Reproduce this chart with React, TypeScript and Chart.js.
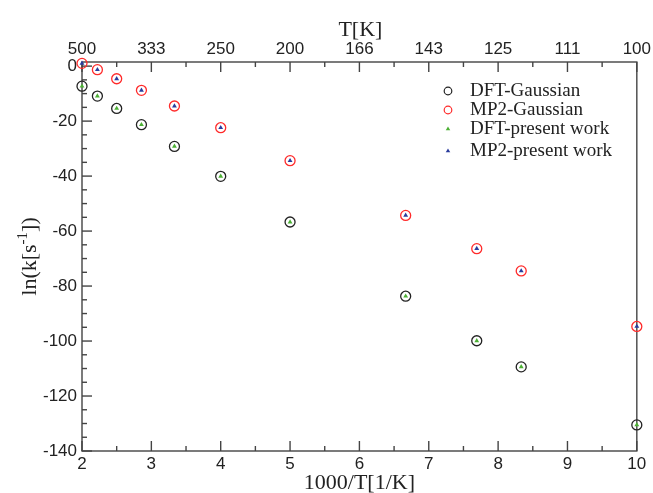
import { useEffect, useRef } from 'react';
import { Chart, registerables } from 'chart.js';

Chart.register(...registerables);

// ---- data ----
const invT = [2, 2.222, 2.5, 2.857, 3.333, 4, 5, 6.667, 7.692, 8.333, 10];
const dftGaussian = [-7.3, -10.9, -15.4, -21.3, -29.2, -40.1, -56.7, -83.7, -99.9, -109.4, -130.5];
const mp2Gaussian = [1.0, -1.3, -4.6, -8.8, -14.5, -22.4, -34.4, -54.3, -66.4, -74.5, -94.7];
const dftPresent = [-7.3, -10.9, -15.4, -21.3, -29.2, -40.1, -56.7, -83.7, -99.9, -109.4, -130.5];
const mp2Present = [1.0, -1.3, -4.6, -8.8, -14.5, -22.4, -34.4, -54.3, -66.4, -74.5, -94.7];
const bottomTicks = [2, 3, 4, 5, 6, 7, 8, 9, 10];
const topTickLabels = ['500', '333', '250', '200', '166', '143', '125', '111', '100'];
const yTicks = [-140, -120, -100, -80, -60, -40, -20, 0];
const seriesLabels = ['DFT-Gaussian', 'MP2-Gaussian', 'DFT-present work', 'MP2-present work'];

// ---- styles ----
const TEXT = '#222222';
const AXIS = '#444444';
const BLACK = '#222222';
const RED = '#ff2a2a';
const GREEN = '#4cb034';
const BLUE = '#2a3c9c';
const SANS = "'Liberation Sans', Arial, sans-serif";
const SERIF = "'Liberation Serif', 'Times New Roman', serif";
const X_MINOR = 0.5;
const Y_MINOR = 5;

const pts = (ys: number[]) => ys.map((y, i) => ({ x: invT[i], y }));

const framePlugin = {
  id: 'frameTicks',
  beforeDatasetsDraw(chart: any) {
    const { ctx, chartArea: a, scales } = chart;
    const xs = scales.x;
    const ys = scales.y;
    ctx.save();
    ctx.strokeStyle = AXIS;
    ctx.lineWidth = 1.4;
    const line = (x1: number, y1: number, x2: number, y2: number) => {
      ctx.beginPath();
      ctx.moveTo(x1, y1);
      ctx.lineTo(x2, y2);
      ctx.stroke();
    };
    const xmin = bottomTicks[0];
    const xmax = bottomTicks[bottomTicks.length - 1];
    for (let v = xmin; v <= xmax + 1e-9; v += X_MINOR) {
      const px = xs.getPixelForValue(v);
      const major = Math.abs(v - Math.round(v)) < 1e-9;
      const len = major ? 10 : 5;
      line(px, a.bottom, px, a.bottom - len);
      line(px, a.top, px, a.top + len);
    }
    const ymin = yTicks[0];
    const ymax = yTicks[yTicks.length - 1];
    for (let v = ymin; v <= ymax + 1e-9; v += Y_MINOR) {
      const py = ys.getPixelForValue(v);
      const major = yTicks.includes(v);
      const len = major ? 10 : 5;
      line(a.left, py, a.left + len, py);
    }
    ctx.strokeRect(a.left, a.top, a.right - a.left, a.bottom - a.top);
    ctx.restore();
  },
};

const textPlugin = {
  id: 'titlesLegend',
  afterDraw(chart: any) {
    const { ctx, chartArea: a } = chart;
    ctx.save();
    ctx.fillStyle = TEXT;
    const cx = (a.left + a.right) / 2;
    // bottom title
    ctx.font = `22px ${SERIF}`;
    ctx.textAlign = 'center';
    ctx.textBaseline = 'alphabetic';
    ctx.fillText('1000/T[1/K]', cx, 489);
    // top title
    ctx.fillText('T[K]', cx + 1, 36);
    // y title with superscript
    ctx.save();
    ctx.translate(36, (a.top + a.bottom) / 2);
    ctx.rotate(-Math.PI / 2);
    ctx.textAlign = 'left';
    const main1 = 'ln(k[s';
    const sup = '-1';
    const main2 = '])';
    ctx.font = `22px ${SERIF}`;
    const w1 = ctx.measureText(main1).width;
    const w3 = ctx.measureText(main2).width;
    ctx.font = `15px ${SERIF}`;
    const w2 = ctx.measureText(sup).width;
    const total = w1 + w2 + w3;
    let x0 = -total / 2;
    ctx.font = `22px ${SERIF}`;
    ctx.fillText(main1, x0, 0);
    x0 += w1;
    ctx.font = `15px ${SERIF}`;
    ctx.fillText(sup, x0, -9);
    x0 += w2;
    ctx.font = `22px ${SERIF}`;
    ctx.fillText(main2, x0, 0);
    ctx.restore();

    // legend
    const rows = [91, 110, 129, 151];
    const mx = 448;
    const tx = 470;
    const styles = [
      { kind: 'circle', color: BLACK },
      { kind: 'circle', color: RED },
      { kind: 'tri', color: GREEN },
      { kind: 'tri', color: BLUE },
    ];
    ctx.font = `19px ${SERIF}`;
    ctx.textAlign = 'left';
    ctx.textBaseline = 'middle';
    seriesLabels.forEach((lab, i) => {
      const y = rows[i];
      const s = styles[i];
      if (s.kind === 'circle') {
        ctx.strokeStyle = s.color;
        ctx.lineWidth = 1.2;
        ctx.beginPath();
        ctx.arc(mx, y, 3.8, 0, Math.PI * 2);
        ctx.stroke();
      } else {
        ctx.fillStyle = s.color;
        const r = 2.6;
        ctx.beginPath();
        ctx.moveTo(mx, y - r);
        ctx.lineTo(mx + r * 0.866, y + r * 0.5);
        ctx.lineTo(mx - r * 0.866, y + r * 0.5);
        ctx.closePath();
        ctx.fill();
      }
      ctx.fillStyle = TEXT;
      ctx.fillText(lab, tx, y);
    });
    ctx.restore();
  },
};

export default function App() {
  const ref = useRef<HTMLCanvasElement | null>(null);
  useEffect(() => {
    if (!ref.current) return;
    const tickFont = { family: SANS, size: 17 };
    const chart = new Chart(ref.current, {
      type: 'scatter',
      data: {
        datasets: [
          {
            label: seriesLabels[0],
            data: pts(dftGaussian),
            pointStyle: 'circle',
            pointRadius: 5,
            pointBorderWidth: 1.3,
            borderColor: BLACK,
            backgroundColor: 'rgba(0,0,0,0)',
            clip: false,
            order: 2,
          },
          {
            label: seriesLabels[1],
            data: pts(mp2Gaussian),
            pointStyle: 'circle',
            pointRadius: 5,
            pointBorderWidth: 1.3,
            borderColor: RED,
            backgroundColor: 'rgba(0,0,0,0)',
            clip: false,
            order: 2,
          },
          {
            label: seriesLabels[2],
            data: pts(dftPresent),
            pointStyle: 'triangle',
            pointRadius: 2.8,
            pointBorderWidth: 0,
            borderColor: GREEN,
            backgroundColor: GREEN,
            clip: false,
            order: 1,
          },
          {
            label: seriesLabels[3],
            data: pts(mp2Present),
            pointStyle: 'triangle',
            pointRadius: 2.8,
            pointBorderWidth: 0,
            borderColor: BLUE,
            backgroundColor: BLUE,
            clip: false,
            order: 1,
          },
        ],
      },
      options: {
        animation: false,
        responsive: false,
        devicePixelRatio: 1,
        layout: { padding: { left: 0, right: 16, top: 0, bottom: 0 } },
        plugins: {
          legend: { display: false },
          tooltip: { enabled: false },
        },
        scales: {
          x: {
            type: 'linear',
            position: 'bottom',
            min: 2,
            max: 10,
            afterBuildTicks: (s: any) => {
              s.ticks = bottomTicks.map((v) => ({ value: v }));
            },
            ticks: { font: tickFont, color: TEXT, padding: 3, maxRotation: 0, autoSkip: false },
            grid: { display: false, drawTicks: false },
            border: { display: false },
            afterFit: (s: any) => {
              s.height = 42;
            },
          },
          x2: {
            type: 'linear',
            position: 'top',
            min: 2,
            max: 10,
            afterBuildTicks: (s: any) => {
              s.ticks = bottomTicks.map((v) => ({ value: v }));
            },
            ticks: {
              font: tickFont,
              color: TEXT,
              padding: 2,
              maxRotation: 0,
              autoSkip: false,
              callback: (_v: any, i: number) => topTickLabels[i],
            },
            grid: { display: false, drawTicks: false },
            border: { display: false },
            afterFit: (s: any) => {
              s.height = 62;
            },
          },
          y: {
            type: 'linear',
            position: 'left',
            min: -140,
            max: 1.5,
            afterBuildTicks: (s: any) => {
              s.ticks = yTicks.map((v) => ({ value: v }));
            },
            ticks: { font: tickFont, color: TEXT, padding: 5, autoSkip: false },
            grid: { display: false, drawTicks: false },
            border: { display: false },
            afterFit: (s: any) => {
              s.width = 82;
            },
          },
        },
      },
      plugins: [framePlugin, textPlugin],
    });
    return () => chart.destroy();
  }, []);
  return (
    <div style={{ position: 'absolute', left: 0, top: 0, width: 653, height: 493, background: '#fff' }}>
      <canvas ref={ref} width={653} height={493} />
    </div>
  );
}
